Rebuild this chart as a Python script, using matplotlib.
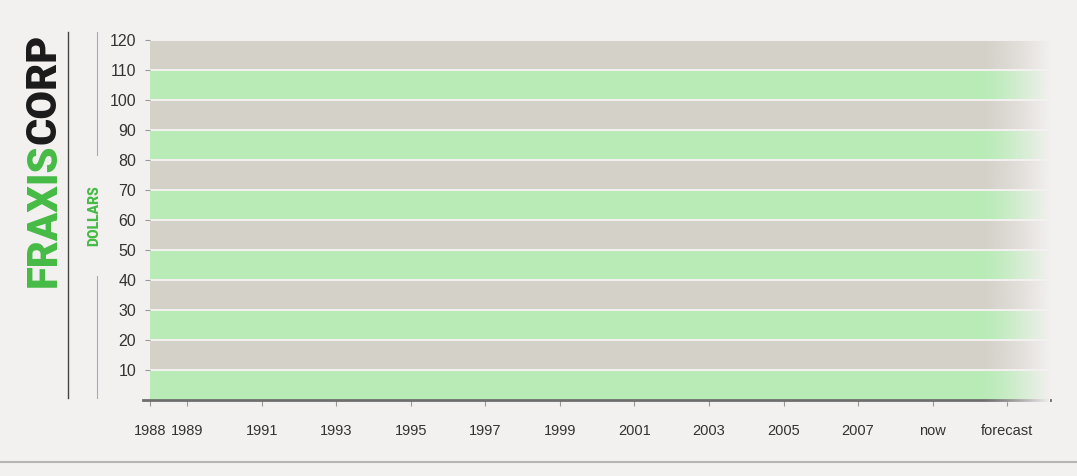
import matplotlib.pyplot as plt
import matplotlib.colors as mcolors
import numpy as np
from matplotlib.lines import Line2D

# axis content
band_edges = [0, 10, 20, 30, 40, 50, 60, 70, 80, 90, 100, 110, 120]
y_ticks = [10, 20, 30, 40, 50, 60, 70, 80, 90, 100, 110, 120]
x_years = [1988, 1989, 1991, 1993, 1995, 1997, 1999, 2001, 2003, 2005, 2007, 2009, 2011]
x_labels = ["1988", "1989", "1991", "1993", "1995", "1997", "1999", "2001",
            "2003", "2005", "2007", "now", "forecast"]

bg = "#f3f0f0"
green_band = "#b8ebb6"
gray_band = "#d4d1c9"
brand_green = "#46bb46"

plt.rcParams["font.family"] = ["Liberation Sans", "DejaVu Sans"]

fig = plt.figure(figsize=(10.77, 4.76), dpi=100, facecolor=bg)
ax = fig.add_axes([150 / 1077, 76 / 476, 900 / 1077, 360 / 476])
ax.set_facecolor(bg)

# alternating stripes, small gap between them
for i in range(len(band_edges) - 1):
    lo, hi = band_edges[i], band_edges[i + 1]
    col = green_band if i % 2 == 0 else gray_band
    ax.axhspan(lo + (0.0 if i == 0 else 0.35), hi - 0.35, color=col, lw=0, zorder=1)

ax.set_xlim(1988, 2012.15)
ax.set_ylim(0, 120)

# fade out on the right edge
fade = np.zeros((2, 200, 4))
rgb = mcolors.to_rgb(bg)
fade[..., 0], fade[..., 1], fade[..., 2] = rgb
fade[..., 3] = np.linspace(0, 1, 200) ** 1.3
ax.imshow(fade, extent=(2010.3, 2012.15, -1, 121), aspect="auto", zorder=4,
          interpolation="bilinear", clip_on=False)

for s in ["left", "top", "right", "bottom"]:
    ax.spines[s].set_visible(False)
ax.add_line(Line2D([1987.8, 2012.15], [0, 0], color="#6e6e6e", lw=2,
                   clip_on=False, zorder=3))

ax.set_yticks(y_ticks)
ax.set_yticklabels([str(v) for v in y_ticks])
ax.set_xticks(x_years)
ax.set_xticklabels(x_labels)
ax.tick_params(axis="y", length=3.5, width=0.8, color="#999999", pad=6.5,
               labelsize=11.5, labelcolor="#333333")
ax.tick_params(axis="x", length=4, width=0.8, color="#999999", pad=13,
               labelsize=10.5, labelcolor="#333333")

# brand title, rotated
brand_font = ["Roboto", "DejaVu Sans"]
t1 = fig.text(44 / 1077, 1 - 287 / 476, "FRAXIS", rotation=90, ha="center",
              va="bottom", color=brand_green, fontsize=30, fontweight="black",
              family=brand_font)
ax.annotate("CORP", xy=(0.5, 1), xycoords=t1, rotation=90, ha="center",
            va="bottom", color="#1a1a1a", fontsize=30, fontweight="black",
            family=brand_font, annotation_clip=False)

fig.add_artist(Line2D([68 / 1077, 68 / 1077], [1 - 398 / 476, 1 - 32 / 476],
                      color="#444444", lw=1.0))

# y label with split rule
fig.text(94 / 1077, 1 - 216 / 476, "DOLLARS", rotation=90, ha="center",
         va="center", color=brand_green, fontsize=10, fontweight="black",
         family=brand_font)
fig.add_artist(Line2D([97 / 1077, 97 / 1077], [1 - 155 / 476, 1 - 32 / 476],
                      color="#aaaaaa", lw=0.8))
fig.add_artist(Line2D([97 / 1077, 97 / 1077], [1 - 398 / 476, 1 - 276 / 476],
                      color="#aaaaaa", lw=0.8))

# torn paper edge
fig.add_artist(Line2D([0, 1], [1 - 462 / 476, 1 - 462 / 476],
                      color="#b5b5b5", lw=1.5))

fig.savefig("out.png", dpi=100, facecolor=bg)
